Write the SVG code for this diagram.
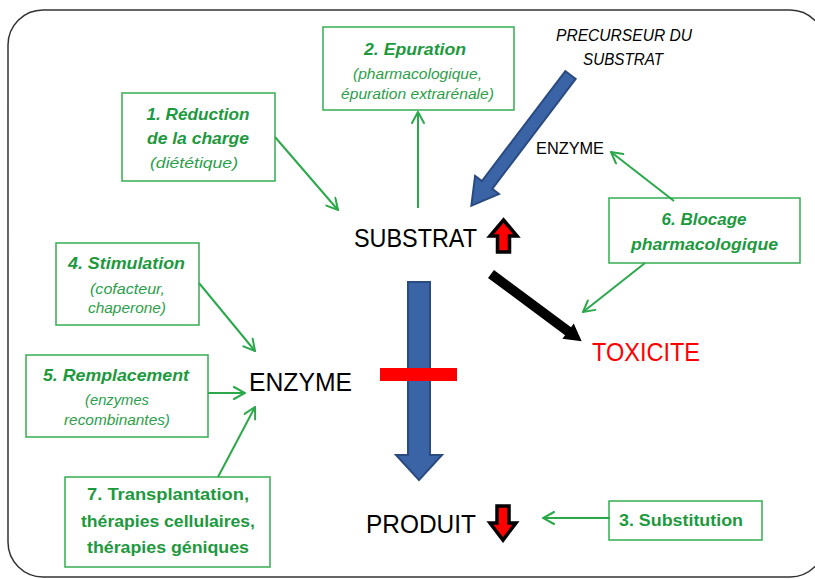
<svg xmlns="http://www.w3.org/2000/svg" width="815" height="579" viewBox="0 0 815 579">
<style>
  text { font-family: "Liberation Sans", Arial, sans-serif; }
  .box { fill: #ffffff; stroke: #35ad52; stroke-width: 1.5; }
  .ttl { font-size: 17px; font-weight: bold; font-style: italic; fill: #1d993e; text-anchor: middle; }
  .sub { font-size: 15px; font-style: italic; fill: #2ba04a; text-anchor: middle; }
  .bld { font-size: 16px; font-weight: bold; fill: #1d993e; text-anchor: middle; }
  .big { font-size: 25px; fill: #000000; text-anchor: middle; }
  .sm { font-size: 17px; fill: #000000; text-anchor: middle; }
  .conn { stroke: #2aa84a; stroke-width: 2; fill: none; marker-end: url(#gh); }
  .blue { fill: #3b64a6; stroke: #2a4b80; stroke-width: 2; stroke-linejoin: miter; }
  .redarr { fill: #ff0000; stroke: #000000; stroke-width: 3.5; stroke-linejoin: miter; }
</style>
<defs>
  <marker id="gh" viewBox="0 0 14 14" refX="13" refY="7" markerWidth="14" markerHeight="14" markerUnits="userSpaceOnUse" orient="auto">
    <path d="M2,1 L13,7 L2,13" fill="none" stroke="#2aa84a" stroke-width="2" stroke-linecap="round"/>
  </marker>
</defs>

<rect x="8" y="10" width="817" height="567" rx="35" ry="35" fill="#ffffff" stroke="#333333" stroke-width="1.5"/>

<g id="precurseur">
  <text class="sm" x="624" y="41" font-style="italic" textLength="136" lengthAdjust="spacingAndGlyphs">PRECURSEUR DU</text>
  <text class="sm" x="623" y="65" font-style="italic" textLength="80" lengthAdjust="spacingAndGlyphs">SUBSTRAT</text>
</g>
<g id="enzyme-small">
  <text class="sm" x="570" y="154" textLength="68" lengthAdjust="spacingAndGlyphs">ENZYME</text>
</g>
<g id="substrat">
  <text class="big" x="415.5" y="247" textLength="123" lengthAdjust="spacingAndGlyphs">SUBSTRAT</text>
  <polygon class="redarr" points="503.5,220 517,236 509.5,236 509.5,252 497.5,252 497.5,236 490,236"/>
</g>
<g id="enzyme">
  <text class="big" x="300.5" y="391" textLength="103" lengthAdjust="spacingAndGlyphs">ENZYME</text>
</g>
<g id="toxicite">
  <text class="big" x="646" y="361" style="fill:#ff0000" textLength="108" lengthAdjust="spacingAndGlyphs">TOXICITE</text>
</g>
<g id="produit">
  <text class="big" x="421" y="533" textLength="110" lengthAdjust="spacingAndGlyphs">PRODUIT</text>
  <polygon class="redarr" points="497,506 509,506 509,523 516,523 503,540 490,523 497,523"/>
</g>

<g id="box1">
  <rect class="box" x="122" y="93" width="153" height="88"/>
  <text class="ttl" x="198" y="120" textLength="103" lengthAdjust="spacingAndGlyphs">1. Réduction</text>
  <text class="ttl" x="198" y="144" textLength="102" lengthAdjust="spacingAndGlyphs">de la charge</text>
  <text class="sub" x="194" y="168" textLength="88" lengthAdjust="spacingAndGlyphs">(diététique)</text>
</g>
<g id="box2">
  <rect class="box" x="323" y="27" width="191" height="83"/>
  <text class="ttl" x="415" y="55" textLength="102" lengthAdjust="spacingAndGlyphs">2. Epuration</text>
  <text class="sub" x="417.5" y="79" textLength="129" lengthAdjust="spacingAndGlyphs">(pharmacologique,</text>
  <text class="sub" x="417.5" y="99" textLength="153" lengthAdjust="spacingAndGlyphs">épuration extrarénale)</text>
</g>
<g id="box3">
  <rect class="box" x="609" y="501" width="153" height="39"/>
  <text class="bld" x="681" y="526" textLength="124" lengthAdjust="spacingAndGlyphs">3. Substitution</text>
</g>
<g id="box4">
  <rect class="box" x="56" y="243" width="143" height="82"/>
  <text class="ttl" x="126.5" y="269" textLength="117" lengthAdjust="spacingAndGlyphs">4. Stimulation</text>
  <text class="sub" x="127.5" y="294" textLength="75" lengthAdjust="spacingAndGlyphs">(cofacteur,</text>
  <text class="sub" x="127" y="313" textLength="78" lengthAdjust="spacingAndGlyphs">chaperone)</text>
</g>
<g id="box5">
  <rect class="box" x="26" y="355" width="182" height="82"/>
  <text class="ttl" x="116" y="381" textLength="146" lengthAdjust="spacingAndGlyphs">5. Remplacement</text>
  <text class="sub" x="117" y="405" textLength="64" lengthAdjust="spacingAndGlyphs">(enzymes</text>
  <text class="sub" x="117" y="425" textLength="106" lengthAdjust="spacingAndGlyphs">recombinantes)</text>
</g>
<g id="box6">
  <rect class="box" x="609" y="198" width="191" height="65"/>
  <text class="ttl" x="704" y="225" textLength="85" lengthAdjust="spacingAndGlyphs">6. Blocage</text>
  <text class="ttl" x="704.5" y="250" textLength="147" lengthAdjust="spacingAndGlyphs">pharmacologique</text>
</g>
<g id="box7">
  <rect class="box" x="65" y="477" width="205" height="90"/>
  <text class="bld" x="168" y="500" textLength="162" lengthAdjust="spacingAndGlyphs">7. Transplantation,</text>
  <text class="bld" x="168" y="527" textLength="174" lengthAdjust="spacingAndGlyphs">thérapies cellulaires,</text>
  <text class="bld" x="168" y="553" textLength="162" lengthAdjust="spacingAndGlyphs">thérapies géniques</text>
</g>

<g id="connectors">
  <line class="conn" x1="275" y1="137" x2="338" y2="210"/>
  <line class="conn" x1="418" y1="208" x2="418" y2="112"/>
  <line class="conn" x1="674" y1="201" x2="611" y2="152"/>
  <line class="conn" x1="645" y1="263" x2="583" y2="312"/>
  <line class="conn" x1="199" y1="283" x2="255" y2="351"/>
  <line class="conn" x1="208" y1="393" x2="245" y2="393"/>
  <line class="conn" x1="218" y1="477" x2="255" y2="407"/>
  <line class="conn" x1="610" y1="518" x2="543" y2="518"/>
  <polygon class="blue" transform="translate(570.5,75) rotate(127.2)" points="0,-6.5 138,-6.5 138,-15 164,0 138,15 138,6.5 0,6.5"/>
  <polygon class="blue" points="408,282 430,282 430,455 442,455 419,480 396,455 408,455"/>
  <rect x="380" y="368" width="77" height="13" fill="#ff0000"/>
  <polygon transform="translate(491,274) rotate(36.6)" fill="#000000" points="0,-5 96,-5 96,-9.5 113,0 96,9.5 96,5 0,5"/>
</g>
</svg>
